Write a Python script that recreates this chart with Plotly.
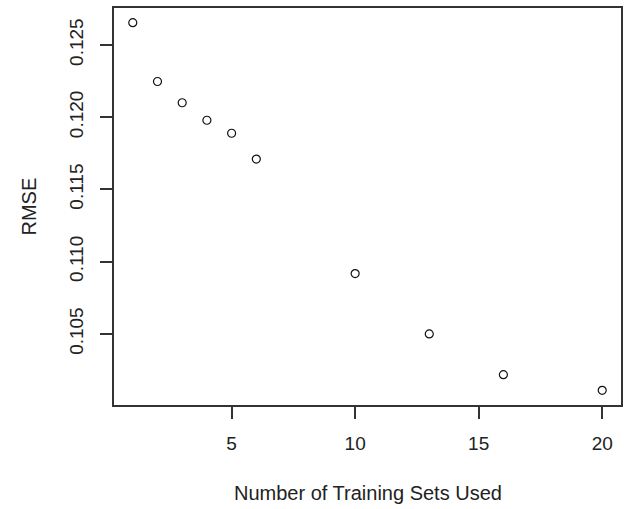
import plotly.graph_objects as go

training_sets = [1, 2, 3, 4, 5, 6, 10, 13, 16, 20]
rmse = [0.12654, 0.12247, 0.12100, 0.11979, 0.11889, 0.11710, 0.10918, 0.10500, 0.10218, 0.10110]
x_ticks = [5, 10, 15, 20]
y_ticks = [0.105, 0.110, 0.115, 0.120, 0.125]
y_tick_text = ["0.105", "0.110", "0.115", "0.120", "0.125"]
x_title = "Number of Training Sets Used"
y_title = "RMSE"

def ext(lo, hi):
    d = (hi - lo) * 0.04
    return [lo - d, hi + d]

font = dict(family="Liberation Sans, Arial, sans-serif", size=19, color="#222")
title_font = dict(family="Liberation Sans, Arial, sans-serif", size=20, color="#222")
axcol = "#333"

fig = go.Figure(go.Scatter(
    x=training_sets, y=rmse, mode="markers",
    marker=dict(symbol="circle-open", size=8, color="#111", line=dict(width=1.2)),
))

fig.update_layout(
    width=631, height=509,
    margin=dict(l=114, r=10, t=6, b=104),
    paper_bgcolor="white", plot_bgcolor="white",
    showlegend=False, font=font,
)
fig.update_xaxes(
    range=ext(min(training_sets), max(training_sets)),
    tickmode="array", tickvals=x_ticks, ticktext=[str(v) for v in x_ticks],
    showgrid=False, zeroline=False, showline=True, linecolor=axcol, linewidth=1.5,
    mirror=True, ticks="outside", ticklen=12, tickwidth=1.5, tickcolor=axcol,
    ticklabelstandoff=8, tickfont=font,
)
fig.update_yaxes(
    range=ext(min(rmse), max(rmse)),
    tickmode="array", tickvals=y_ticks, ticktext=y_tick_text, tickangle=-90,
    showgrid=False, zeroline=False, showline=True, linecolor=axcol, linewidth=1.5,
    mirror=True, ticks="outside", ticklen=12, tickwidth=1.5, tickcolor=axcol,
    ticklabelstandoff=10, tickfont=font,
)
fig.add_annotation(text=x_title, xref="paper", yref="paper", x=0.5, y=0,
                   yanchor="middle", yshift=-88, showarrow=False, font=title_font)
fig.add_annotation(text=y_title, xref="paper", yref="paper", x=0, y=0.5,
                   xanchor="center", xshift=-86, textangle=-90, showarrow=False, font=title_font)

fig.write_html("out.html", config={"displayModeBar": False},
               post_script="document.body.style.margin='0';")
